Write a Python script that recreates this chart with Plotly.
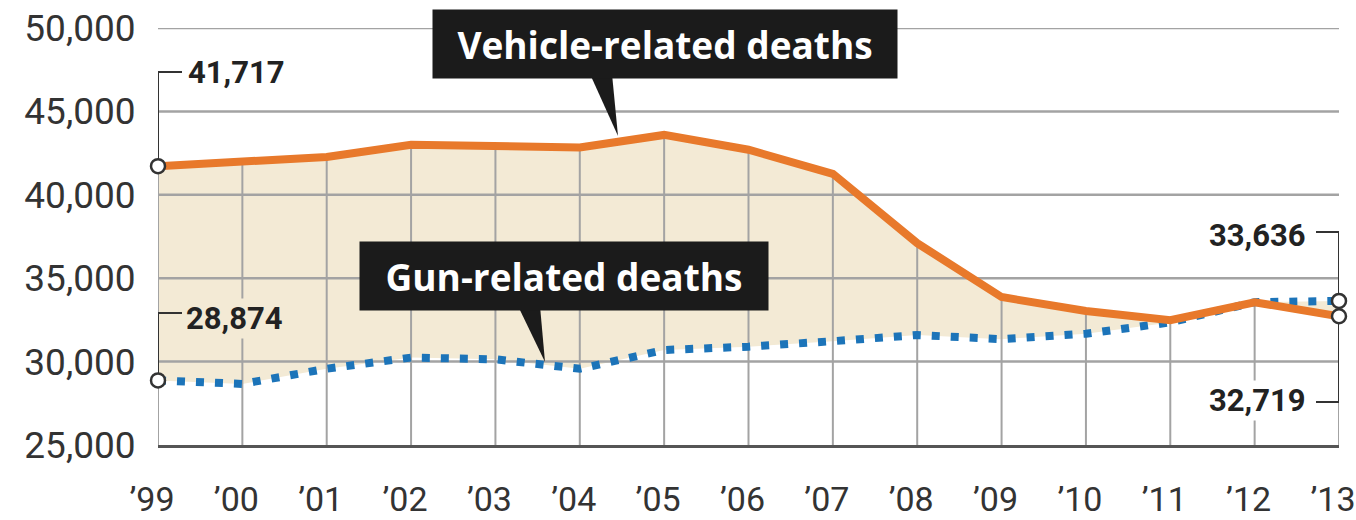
import plotly.graph_objects as go

years = list(range(1999, 2014))
year_labels = ["’99", "’00", "’01", "’02", "’03", "’04", "’05", "’06", "’07",
               "’08", "’09", "’10", "’11", "’12", "’13"]
vehicle = [41717, 41950, 42270, 43000, 42870, 42840, 43590, 42700, 41260,
           37100, 33870, 33030, 32480, 33560, 32719]
gun = [28874, 28663, 29573, 30242, 30136, 29569, 30694, 30896, 31224,
       31593, 31347, 31672, 32351, 33563, 33636]
y_ticks = [25000, 30000, 35000, 40000, 45000, 50000]

ORANGE = "#e8792b"
BLUE = "#1c74b9"
BEIGE = "#f3ead5"
GRID = "#a3a3a3"
DARK = "#222222"
FONT = "Roboto"
BOXFONT = "Open Sans"

# pixel <-> data helpers (plot area: x 158..1339, y 28..445)
X0, X1, Y0, Y1 = 158, 1339, 445, 28
def px_x(p):
    return years[0] + (p - X0) / (X1 - X0) * (years[-1] - years[0])
def px_y(p):
    return y_ticks[0] + (Y0 - p) / (Y0 - Y1) * (y_ticks[-1] - y_ticks[0])

fig = go.Figure()

# beige fill between gun and vehicle lines
fig.add_trace(go.Scatter(x=years, y=gun, mode="lines", line=dict(width=0),
                         hoverinfo="skip", showlegend=False))
fig.add_trace(go.Scatter(x=years, y=vehicle, mode="lines", line=dict(width=0),
                         fill="tonexty", fillcolor=BEIGE,
                         hoverinfo="skip", showlegend=False))

# horizontal gridlines (drawn above fill)
hx, hy = [], []
for t in y_ticks[1:]:
    hx += [years[0], years[-1], None]
    hy += [t, t, None]
fig.add_trace(go.Scatter(x=hx, y=hy, mode="lines", line=dict(color=GRID, width=2.5),
                         hoverinfo="skip", showlegend=False))

# vertical gridlines from the base up to the vehicle line
vx, vy = [], []
for yr, v, g in zip(years, vehicle, gun):
    vx += [yr, yr, None]
    vy += [y_ticks[0], max(v, g), None]
fig.add_trace(go.Scatter(x=vx, y=vy, mode="lines", line=dict(color=GRID, width=2),
                         hoverinfo="skip", showlegend=False))

# brackets to value labels
bracket_color = "#333333"
brackets = [
    ([years[0], years[0], px_x(182)], [vehicle[0], px_y(72), px_y(72)]),
    ([years[0], years[0], px_x(182)], [gun[0], px_y(313), px_y(313)]),
    ([px_x(1316), years[-1], years[-1]], [px_y(232), px_y(232), gun[-1]]),
    ([px_x(1316), years[-1], years[-1]], [px_y(402), px_y(402), vehicle[-1]]),
]
for bx, by in brackets:
    fig.add_trace(go.Scatter(x=bx, y=by, mode="lines",
                             line=dict(color=bracket_color, width=2),
                             hoverinfo="skip", showlegend=False, cliponaxis=False))

# data lines
fig.add_trace(go.Scatter(x=years, y=gun, mode="lines",
                         line=dict(color=BLUE, width=8, dash="8px,11px"),
                         hoverinfo="skip", showlegend=False, cliponaxis=False))
fig.add_trace(go.Scatter(x=years, y=vehicle, mode="lines",
                         line=dict(color=ORANGE, width=8),
                         hoverinfo="skip", showlegend=False, cliponaxis=False))

# end-point circles
fig.add_trace(go.Scatter(x=[years[0], years[0], years[-1], years[-1]],
                         y=[vehicle[0], gun[0], gun[-1], vehicle[-1]],
                         mode="markers",
                         marker=dict(size=14, color="white",
                                     line=dict(color="#333333", width=2.5)),
                         hoverinfo="skip", showlegend=False, cliponaxis=False))

annotations = [
    dict(x=px_x(186), y=px_y(72), text="<b>41,717</b>", xanchor="left",
         yanchor="middle", showarrow=False, font=dict(family=FONT, size=31, color=DARK)),
    dict(x=px_x(184), y=px_y(318), text="<b>28,874</b>", xanchor="left",
         yanchor="middle", showarrow=False, bgcolor=BEIGE,
         font=dict(family=FONT, size=31, color=DARK)),
    dict(x=px_x(1308), y=px_y(235), text="<b>33,636</b>", xanchor="right",
         yanchor="middle", showarrow=False, font=dict(family=FONT, size=31, color=DARK)),
    dict(x=px_x(1308), y=px_y(400), text="<b>32,719</b>", xanchor="right",
         yanchor="middle", showarrow=False, bgcolor="white",
         font=dict(family=FONT, size=31, color=DARK)),
    dict(x=px_x(665), y=px_y(44), text="<b>Vehicle-related deaths</b>",
         xanchor="center", yanchor="middle", showarrow=False,
         bgcolor="#1b1b1b", borderpad=12, width=440, height=44,
         font=dict(family=BOXFONT, size=37, color="white")),
    dict(x=px_x(564), y=px_y(276), text="<b>Gun-related deaths</b>",
         xanchor="center", yanchor="middle", showarrow=False,
         bgcolor="#1b1b1b", borderpad=12, width=384, height=44,
         font=dict(family=BOXFONT, size=37, color="white")),
]

def tri(p1, p2, tip):
    return (f"M {px_x(p1[0])},{px_y(p1[1])} L {px_x(p2[0])},{px_y(p2[1])} "
            f"L {px_x(tip[0])},{px_y(tip[1])} Z")

shapes = [
    dict(type="path", xref="x", yref="y", path=tri((590, 74), (612, 74), (618, 136)),
         fillcolor="#1b1b1b", line=dict(width=0)),
    dict(type="path", xref="x", yref="y", path=tri((518, 306), (540, 306), (545, 362)),
         fillcolor="#1b1b1b", line=dict(width=0)),
]

fig.update_layout(
    width=1356, height=520,
    margin=dict(l=158, r=17, t=28, b=75, autoexpand=False),
    paper_bgcolor="white", plot_bgcolor="white",
    showlegend=False,
    annotations=annotations,
    shapes=shapes,
    xaxis=dict(range=[years[0], years[-1]], tickvals=years, ticktext=year_labels,
               showgrid=False, zeroline=False, showline=True, linecolor="#555555",
               linewidth=3, ticks="outside", ticklen=22, tickcolor="rgba(0,0,0,0)",
               automargin=False, ticklabeloverflow="allow", ticklabelshift=-6,
               tickfont=dict(family=FONT, size=34, color="#333333"), fixedrange=True),
    yaxis=dict(range=[y_ticks[0], y_ticks[-1]], tickvals=y_ticks, tickformat=",",
               showgrid=False, zeroline=False, showline=False,
               ticks="outside", ticklen=14, tickcolor="rgba(0,0,0,0)",
               automargin=False, ticklabeloverflow="allow",
               tickfont=dict(family=FONT, size=37, color="#333333"), fixedrange=True),
)

fig.write_html("out.html", config={"displayModeBar": False},
               post_script="document.body.style.margin='0';document.body.style.overflow='hidden';")
